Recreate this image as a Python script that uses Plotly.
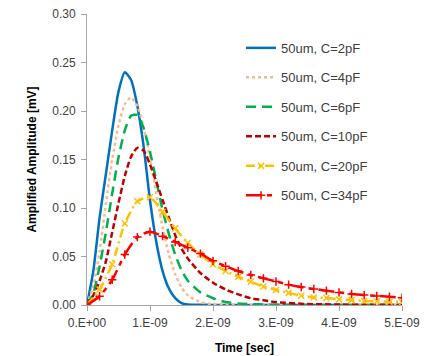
import plotly.graph_objects as go

# ---- data (time in seconds, amplitude in mV) ----
t_fine = [0, 0.1e-9, 0.2e-9, 0.3e-9, 0.4e-9, 0.5e-9, 0.6e-9, 0.7e-9, 0.8e-9, 0.9e-9,
          1.0e-9, 1.1e-9, 1.2e-9, 1.3e-9, 1.4e-9, 1.5e-9, 1.6e-9, 1.8e-9, 2.0e-9,
          2.2e-9, 2.4e-9, 2.6e-9, 2.8e-9, 3.0e-9, 3.5e-9, 4.0e-9, 4.5e-9, 5.0e-9]
c2pF = [0, 0.035, 0.09, 0.135, 0.18, 0.22, 0.240, 0.232, 0.205, 0.163,
        0.108, 0.065, 0.035, 0.017, 0.007, 0.002, 0.0005, 0.0002, 0.0001,
        0, 0, 0, 0, 0, 0, 0, 0, 0]
c4pF = [0, 0.02, 0.055, 0.105, 0.15, 0.185, 0.207, 0.214, 0.205, 0.183,
        0.152, 0.115, 0.08, 0.052, 0.032, 0.018, 0.01, 0.003, 0.001,
        0.0005, 0.0002, 0.0001, 0, 0, 0, 0, 0, 0]
c6pF = [0, 0.012, 0.04, 0.075, 0.115, 0.152, 0.18, 0.195, 0.196, 0.182,
        0.158, 0.128, 0.098, 0.073, 0.052, 0.036, 0.025, 0.013, 0.007,
        0.003, 0.0015, 0.001, 0.0005, 0.0003, 0.0001, 0, 0, 0]
c10pF = [0, 0.01, 0.025, 0.045, 0.075, 0.105, 0.133, 0.153, 0.162, 0.159,
         0.145, 0.127, 0.108, 0.09, 0.072, 0.058, 0.048, 0.033, 0.023,
         0.016, 0.011, 0.007, 0.005, 0.003, 0.001, 0.0005, 0.0002, 0.0001]

t_coarse = [0, 0.2e-9, 0.4e-9, 0.6e-9, 0.8e-9, 1.0e-9, 1.2e-9, 1.4e-9, 1.6e-9, 1.8e-9,
            2.0e-9, 2.2e-9, 2.4e-9, 2.6e-9, 2.8e-9, 3.0e-9, 3.2e-9, 3.4e-9, 3.6e-9,
            3.8e-9, 4.0e-9, 4.2e-9, 4.4e-9, 4.6e-9, 4.8e-9, 5.0e-9]
c20pF = [0, 0.016, 0.042, 0.084, 0.107, 0.111, 0.096, 0.079, 0.064, 0.052,
         0.042, 0.035, 0.029, 0.024, 0.019, 0.0155, 0.0125, 0.0095, 0.0078,
         0.0072, 0.006, 0.005, 0.0042, 0.0038, 0.0034, 0.003]
c34pF = [0, 0.009, 0.026, 0.052, 0.070, 0.0756, 0.071, 0.065, 0.059, 0.053,
         0.0455, 0.040, 0.035, 0.031, 0.0275, 0.0243, 0.021, 0.0185, 0.0165,
         0.0148, 0.013, 0.0113, 0.0102, 0.0094, 0.0085, 0.0075]

x_tickvals = [0, 1e-9, 2e-9, 3e-9, 4e-9, 5e-9]
x_ticktext = ["0.E+00", "1.E-09", "2.E-09", "3.E-09", "4.E-09", "5.E-09"]
y_tickvals = [0, 0.05, 0.10, 0.15, 0.20, 0.25, 0.30]

fig = go.Figure()

def add(name, x, y, color, dash, width=2.5, symbol=None, group="a"):
    mode = "lines+markers" if symbol else "lines"
    kw = {}
    if symbol:
        kw["marker"] = dict(symbol=symbol, size=6, color=color,
                            line=dict(color=color, width=1.5))
    fig.add_trace(go.Scatter(x=x, y=y, name=name, mode=mode, legendgroup=group,
                             line=dict(color=color, dash=dash, width=width, shape="spline",
                                       smoothing=0.6),
                             **kw))

add("50um, C=2pF", t_fine, c2pF, "#0070C0", "solid", group="g1")
add("50um, C=4pF", t_fine, c4pF, "#F8B98C", "dot", group="g2")
add("50um, C=6pF", t_fine, c6pF, "#00B050", "10px,6px", group="g3")
add("50um, C=10pF", t_fine, c10pF, "#C00000", "6px,3px", group="g4")
add("50um, C=20pF", t_coarse, c20pF, "#FFC000", "9px,4px,2px,4px", symbol="x-thin-open", group="g5")
add("50um, C=34pF", t_coarse, c34pF, "#FF0000", "16px,5px,5px,5px", symbol="cross-thin-open", group="g6")

fig.update_layout(
    width=429, height=348,
    margin=dict(l=79, r=35, t=6, b=51, autoexpand=False),
    paper_bgcolor="white", plot_bgcolor="white",
    font=dict(family="Liberation Sans, Arial, sans-serif", size=12, color="#404040"),
    legend=dict(x=0.489, y=0.935, xanchor="left", yanchor="top",
                bgcolor="rgba(0,0,0,0)", tracegroupgap=9.6,
                font=dict(size=13, color="#404040")),
    xaxis=dict(range=[0, 5e-9], tickvals=x_tickvals, ticktext=x_ticktext,
               automargin=False, ticklabelstandoff=2,
               showgrid=False, zeroline=False, showline=True, linecolor="#A6A6A6",
               linewidth=1, ticks="outside", ticklen=5, tickcolor="#A6A6A6",
               title=dict(text="<b>Time [sec]</b>", font=dict(size=12, color="#000000"),
                          standoff=14)),
    yaxis=dict(range=[0, 0.30], tickvals=y_tickvals, tickformat=".2f",
               automargin=False, ticklabelstandoff=3, ticklabeloverflow="allow",
               showgrid=False, zeroline=False, showline=True, linecolor="#A6A6A6",
               linewidth=1, ticks="outside", ticklen=5, tickcolor="#A6A6A6",
               title=dict(text="<b>Amplified Amplitude [mV]</b>",
                          font=dict(size=12, color="#000000"), standoff=13)),
)

fig.write_html("out.html")
